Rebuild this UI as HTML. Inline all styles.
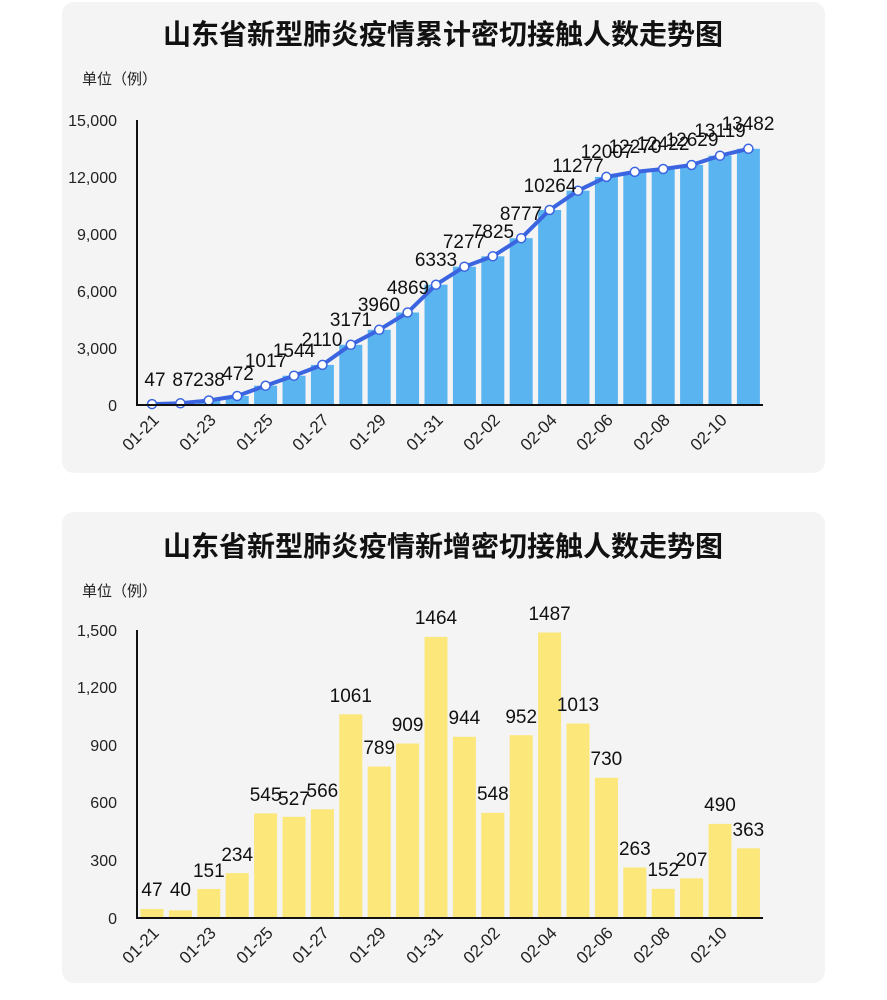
<!DOCTYPE html>
<html><head><meta charset="utf-8"><style>
html,body{margin:0;padding:0;background:#fff;}
svg{display:block;font-family:"Liberation Sans","Noto Sans CJK SC",sans-serif;}
</style></head><body>
<svg width="887" height="1000" viewBox="0 0 887 1000" xmlns="http://www.w3.org/2000/svg">
<rect x="62" y="2" width="763" height="471" rx="12" fill="#f4f4f4"/>
<rect x="62" y="512" width="763" height="471" rx="12" fill="#f4f4f4"/>
<text x="443" y="44" text-anchor="middle" font-size="28" font-weight="bold" fill="#111" font-family="'Noto Sans CJK SC',sans-serif">山东省新型肺炎疫情累计密切接触人数走势图</text>
<text x="443" y="556" text-anchor="middle" font-size="28" font-weight="bold" fill="#111" font-family="'Noto Sans CJK SC',sans-serif">山东省新型肺炎疫情新增密切接触人数走势图</text>
<text x="82" y="84" font-size="15" fill="#222" font-family="'Noto Sans CJK SC',sans-serif">单位（例）</text>
<text x="82" y="596" font-size="15" fill="#222" font-family="'Noto Sans CJK SC',sans-serif">单位（例）</text>

<g font-size="16" fill="#222" text-anchor="end">
<text x="117" y="126">15,000</text><text x="117" y="183">12,000</text><text x="117" y="240">9,000</text>
<text x="117" y="297">6,000</text><text x="117" y="354">3,000</text><text x="117" y="411">0</text>
<text x="117" y="636">1,500</text><text x="117" y="693">1,200</text><text x="117" y="751">900</text>
<text x="117" y="808">600</text><text x="117" y="866">300</text><text x="117" y="924">0</text>
</g>

<g fill="#5ab4f0">
<rect x="140.5" y="404.1" width="23" height="0.9"/><rect x="168.9" y="403.3" width="23" height="1.7"/>
<rect x="197.3" y="400.5" width="23" height="4.5"/><rect x="225.7" y="396" width="23" height="9"/>
<rect x="254.1" y="385.7" width="23" height="19.3"/><rect x="282.5" y="375.7" width="23" height="29.3"/>
<rect x="310.9" y="364.9" width="23" height="40.1"/><rect x="339.3" y="344.8" width="23" height="60.2"/>
<rect x="367.7" y="329.8" width="23" height="75.2"/><rect x="396.1" y="312.5" width="23" height="92.5"/>
<rect x="424.5" y="284.7" width="23" height="120.3"/><rect x="452.9" y="266.7" width="23" height="138.3"/>
<rect x="481.3" y="256.3" width="23" height="148.7"/><rect x="509.7" y="238.2" width="23" height="166.8"/>
<rect x="538.1" y="210" width="23" height="195"/><rect x="566.5" y="190.7" width="23" height="214.3"/>
<rect x="594.9" y="176.9" width="23" height="228.1"/><rect x="623.3" y="171.9" width="23" height="233.1"/>
<rect x="651.7" y="169" width="23" height="236"/><rect x="680.1" y="165" width="23" height="240"/>
<rect x="708.5" y="155.7" width="23" height="249.3"/><rect x="736.9" y="148.8" width="23" height="256.2"/>
</g>
<polyline fill="none" stroke="#3a64e0" stroke-width="4" stroke-linejoin="round" points="152,404.1 180.4,403.3 208.8,400.5 237.2,396 265.6,385.7 294,375.7 322.4,364.9 350.8,344.8 379.2,329.8 407.6,312.5 436,284.7 464.4,266.7 492.8,256.3 521.2,238.2 549.6,210 578,190.7 606.4,176.9 634.8,171.9 663.2,169 691.6,165 720,155.7 748.4,148.8"/>
<g fill="#fff" stroke="#3a64e0" stroke-width="1.5">
<circle cx="152" cy="404.1" r="4.5"/><circle cx="180.4" cy="403.3" r="4.5"/><circle cx="208.8" cy="400.5" r="4.5"/><circle cx="237.2" cy="396" r="4.5"/>
<circle cx="265.6" cy="385.7" r="4.5"/><circle cx="294" cy="375.7" r="4.5"/><circle cx="322.4" cy="364.9" r="4.5"/><circle cx="350.8" cy="344.8" r="4.5"/>
<circle cx="379.2" cy="329.8" r="4.5"/><circle cx="407.6" cy="312.5" r="4.5"/><circle cx="436" cy="284.7" r="4.5"/><circle cx="464.4" cy="266.7" r="4.5"/>
<circle cx="492.8" cy="256.3" r="4.5"/><circle cx="521.2" cy="238.2" r="4.5"/><circle cx="549.6" cy="210" r="4.5"/><circle cx="578" cy="190.7" r="4.5"/>
<circle cx="606.4" cy="176.9" r="4.5"/><circle cx="634.8" cy="171.9" r="4.5"/><circle cx="663.2" cy="169" r="4.5"/><circle cx="691.6" cy="165" r="4.5"/>
<circle cx="720" cy="155.7" r="4.5"/><circle cx="748.4" cy="148.8" r="4.5"/>
</g>
<g font-size="19" fill="#111" text-anchor="middle">
<text x="155" y="386">47</text><text x="183" y="386">87</text><text x="209" y="386">238</text><text x="238" y="380">472</text>
<text x="266" y="367">1017</text><text x="294" y="357">1544</text><text x="322" y="346">2110</text><text x="351" y="326">3171</text>
<text x="379" y="311">3960</text><text x="408" y="294">4869</text><text x="436" y="266">6333</text><text x="464" y="248">7277</text>
<text x="493" y="238">7825</text><text x="521" y="220">8777</text><text x="550" y="192">10264</text><text x="578" y="172">11277</text>
<text x="607" y="158">12007</text><text x="635" y="153">12270</text><text x="663" y="150">12422</text><text x="692" y="146">12629</text>
<text x="720" y="137">13119</text><text x="748" y="130">13482</text>
</g>
<path d="M137,120 V405 H763" fill="none" stroke="#111" stroke-width="2"/>

<g fill="#fbe77a">
<rect x="140.5" y="909" width="23" height="9"/><rect x="168.9" y="910.3" width="23" height="7.7"/>
<rect x="197.3" y="889" width="23" height="29"/><rect x="225.7" y="873.1" width="23" height="44.9"/>
<rect x="254.1" y="813.4" width="23" height="104.6"/><rect x="282.5" y="816.8" width="23" height="101.2"/>
<rect x="310.9" y="809.3" width="23" height="108.7"/><rect x="339.3" y="714.3" width="23" height="203.7"/>
<rect x="367.7" y="766.5" width="23" height="151.5"/><rect x="396.1" y="743.5" width="23" height="174.5"/>
<rect x="424.5" y="636.9" width="23" height="281.1"/><rect x="452.9" y="736.8" width="23" height="181.2"/>
<rect x="481.3" y="812.8" width="23" height="105.2"/><rect x="509.7" y="735.2" width="23" height="182.8"/>
<rect x="538.1" y="632.5" width="23" height="285.5"/><rect x="566.5" y="723.5" width="23" height="194.5"/>
<rect x="594.9" y="777.8" width="23" height="140.2"/><rect x="623.3" y="867.5" width="23" height="50.5"/>
<rect x="651.7" y="888.8" width="23" height="29.2"/><rect x="680.1" y="878.3" width="23" height="39.7"/>
<rect x="708.5" y="823.9" width="23" height="94.1"/><rect x="736.9" y="848.3" width="23" height="69.7"/>
</g>
<g font-size="19" fill="#111" text-anchor="middle">
<text x="152" y="896">47</text><text x="180.4" y="896">40</text><text x="208.8" y="877">151</text><text x="237.2" y="861">234</text>
<text x="265.6" y="801">545</text><text x="294" y="805">527</text><text x="322.4" y="797">566</text><text x="350.8" y="702">1061</text>
<text x="379.2" y="754">789</text><text x="407.6" y="731">909</text><text x="436" y="624">1464</text><text x="464.4" y="724">944</text>
<text x="492.8" y="800">548</text><text x="521.2" y="723">952</text><text x="549.6" y="620">1487</text><text x="578" y="711">1013</text>
<text x="606.4" y="765">730</text><text x="634.8" y="855">263</text><text x="663.2" y="876">152</text><text x="691.6" y="866">207</text>
<text x="720" y="811">490</text><text x="748.4" y="836">363</text>
</g>
<path d="M137,630 V918 H763" fill="none" stroke="#111" stroke-width="2"/>

<g font-size="17" fill="#222" text-anchor="end">
<text transform="translate(160,421) rotate(-45)">01-21</text>
<text transform="translate(217,421) rotate(-45)">01-23</text>
<text transform="translate(274,421) rotate(-45)">01-25</text>
<text transform="translate(330,421) rotate(-45)">01-27</text>
<text transform="translate(387,421) rotate(-45)">01-29</text>
<text transform="translate(444,421) rotate(-45)">01-31</text>
<text transform="translate(501,421) rotate(-45)">02-02</text>
<text transform="translate(558,421) rotate(-45)">02-04</text>
<text transform="translate(614,421) rotate(-45)">02-06</text>
<text transform="translate(671,421) rotate(-45)">02-08</text>
<text transform="translate(728,421) rotate(-45)">02-10</text>
<text transform="translate(160,934) rotate(-45)">01-21</text>
<text transform="translate(217,934) rotate(-45)">01-23</text>
<text transform="translate(274,934) rotate(-45)">01-25</text>
<text transform="translate(330,934) rotate(-45)">01-27</text>
<text transform="translate(387,934) rotate(-45)">01-29</text>
<text transform="translate(444,934) rotate(-45)">01-31</text>
<text transform="translate(501,934) rotate(-45)">02-02</text>
<text transform="translate(558,934) rotate(-45)">02-04</text>
<text transform="translate(614,934) rotate(-45)">02-06</text>
<text transform="translate(671,934) rotate(-45)">02-08</text>
<text transform="translate(728,934) rotate(-45)">02-10</text>
</g>
</svg>
</body></html>
